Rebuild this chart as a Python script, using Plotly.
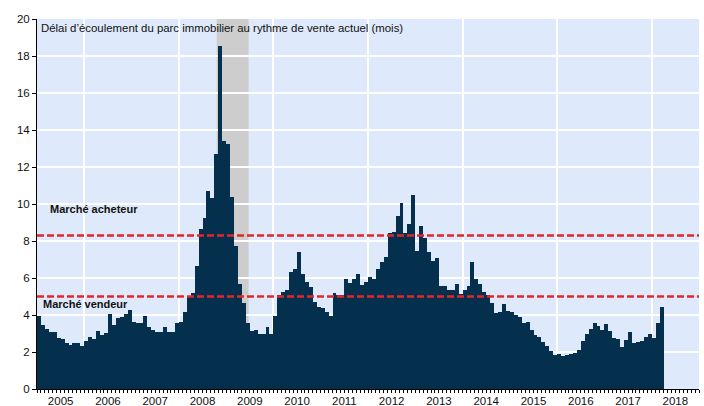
import pandas as pd
import plotly.graph_objects as go

# ---- data (monthly, Jan 2005 -> Mar 2018) ----
start_month = "2005-01"
months_supply = [
    # 2005
    3.95, 3.46, 3.23, 3.10, 3.08, 2.74, 2.70, 2.50, 2.36, 2.49, 2.47, 2.32,
    # 2006
    2.60, 2.80, 2.70, 3.13, 2.90, 3.03, 4.04, 3.46, 3.86, 3.89, 4.04, 4.29,
    # 2007
    3.60, 3.57, 3.57, 3.93, 3.33, 3.19, 3.06, 3.06, 3.37, 3.10, 3.10, 3.58,
    # 2008
    3.60, 4.15, 4.95, 5.20, 6.67, 8.63, 9.25, 10.73, 10.30, 12.72, 18.55, 13.39,
    # 2009
    13.22, 10.40, 7.75, 5.70, 4.67, 3.55, 3.13, 3.19, 2.95, 3.00, 3.33, 2.97,
    # 2010
    3.96, 5.08, 5.26, 5.35, 6.34, 6.49, 7.43, 6.22, 5.77, 5.53, 4.72, 4.45,
    # 2011
    4.40, 4.18, 3.95, 5.21, 5.08, 5.08, 5.93, 5.71, 5.97, 6.19, 5.62, 5.80,
    # 2012
    6.03, 5.93, 6.50, 6.85, 7.14, 8.44, 8.51, 9.36, 10.05, 8.44, 8.93, 10.51,
    # 2013
    7.48, 8.82, 8.15, 7.39, 6.90, 7.08, 5.58, 5.55, 5.37, 5.37, 5.67, 5.13,
    # 2014
    5.35, 5.58, 6.88, 5.94, 5.67, 5.22, 5.10, 4.63, 4.10, 4.15, 4.59, 4.23,
    # 2015
    4.17, 4.01, 3.87, 3.56, 3.63, 3.20, 2.91, 2.82, 2.55, 2.33, 2.06, 1.84,
    # 2016
    1.90, 1.77, 1.84, 1.90, 1.95, 2.10, 2.57, 2.96, 3.23, 3.56, 3.42, 3.18,
    # 2017
    3.49, 3.11, 2.75, 2.69, 2.28, 2.64, 3.09, 2.51, 2.55, 2.58, 2.82, 2.96,
    # 2018
    2.78, 3.58, 4.41,
]
year_labels = list(range(2005, 2019))
buyer_threshold = 8.3
seller_threshold = 5.0
recession_start = 2008.80
recession_end = 2009.475
title_text = "Délai d’écoulement du parc immobilier au rythme de vente actuel (mois)"
buyer_text = "Marché acheteur"
seller_text = "Marché vendeur"

# ---- build ----
periods = pd.period_range(start_month, periods=len(months_supply), freq="M")
x_pos = [p.year + (p.month - 0.5) / 12 for p in periods]
x_min = year_labels[0]
x_max = year_labels[-1] + 1

FONT = "Liberation Sans, Arial, sans-serif"
BAR = "#04304e"
RED = "#e3262b"

fig = go.Figure()
fig.add_trace(go.Bar(
    x=x_pos, y=months_supply, width=1 / 12,
    marker=dict(color=BAR, line=dict(width=0)),
    showlegend=False, hoverinfo="x+y",
))
# invisible trace carrying the label axis
fig.add_trace(go.Scatter(x=[], y=[], xaxis="x2", showlegend=False, hoverinfo="skip"))

fig.add_shape(type="rect", xref="x", yref="paper",
              x0=recession_start, x1=recession_end, y0=0, y1=1,
              fillcolor="#cdcdcd", line=dict(width=0), layer="below")

for yv in (buyer_threshold, seller_threshold):
    fig.add_shape(type="line", xref="paper", yref="y", x0=0, x1=1, y0=yv, y1=yv,
                  line=dict(color=RED, width=2.5, dash="7px,3px"), layer="above")

fig.add_annotation(text=title_text, xref="paper", yref="paper", x=0.003, y=0.976,
                   xanchor="left", yanchor="middle", showarrow=False,
                   font=dict(family=FONT, size=11.4, color="#111"))
fig.add_annotation(text=f"<b>{buyer_text}</b>", xref="paper", yref="y", x=0.016, y=9.71,
                   xanchor="left", yanchor="middle", showarrow=False,
                   font=dict(family=FONT, size=11, color="#111"))
fig.add_annotation(text=f"<b>{seller_text}</b>", xref="paper", yref="y", x=0.006, y=4.58,
                   xanchor="left", yanchor="middle", showarrow=False,
                   font=dict(family=FONT, size=11, color="#111"))

fig.update_layout(
    width=704, height=406,
    margin=dict(l=37, r=5, t=19, b=17, autoexpand=False),
    paper_bgcolor="white", plot_bgcolor="#dee9fb",
    bargap=0,
    font=dict(family=FONT, size=11, color="#111"),
    xaxis=dict(
        range=[x_min, x_max], automargin=False,
        tickmode="array", tickvals=[y for y in year_labels if y % 2 == 0],
        showticklabels=False, ticks="",
        showgrid=True, gridcolor="white", gridwidth=2,
        showline=True, linecolor="black", linewidth=1,
        zeroline=False,
        minor=dict(tickmode="linear", tick0=x_min, dtick=1 / 12, ticks="outside",
                   ticklen=3, tickcolor="black", tickwidth=1, showgrid=False),
    ),
    xaxis2=dict(
        overlaying="x", anchor="y", side="bottom", automargin=False,
        range=[x_min, x_max],
        tickmode="array", tickvals=[y + 0.5 for y in year_labels],
        ticktext=[str(y) for y in year_labels],
        ticks="", showgrid=False, showline=False, zeroline=False,
        ticklabelstandoff=3,
        tickfont=dict(family=FONT, size=11.5, color="#111"),
    ),
    yaxis=dict(
        range=[0, 20], tickmode="linear", tick0=0, dtick=2, automargin=False,
        ticks="outside", ticklen=4, tickcolor="black",
        showgrid=True, gridcolor="white", gridwidth=1.5,
        showline=True, linecolor="black", linewidth=1,
        zeroline=False,
        tickfont=dict(family=FONT, size=11.5, color="#111"),
    ),
)

fig.write_html(
    "out.html",
    config={"displayModeBar": False},
    post_script="document.body.style.margin='0';document.body.style.overflow='hidden';",
)
